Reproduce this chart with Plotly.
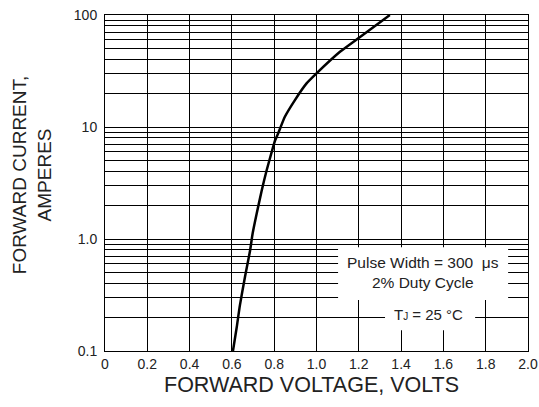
import plotly.graph_objects as go

# Forward characteristic
voltage = [0.605, 0.623, 0.638, 0.662, 0.686, 0.698, 0.717, 0.741, 0.764, 0.788,
           0.804, 0.819, 0.851, 0.898, 0.953, 1.0, 1.111, 1.206, 1.347]
current = [0.1, 0.164, 0.257, 0.46, 0.79, 1.12, 1.68, 2.71, 4.09, 5.96,
           7.57, 8.8, 12.4, 17.4, 24.5, 30.1, 46.9, 63.7, 100]

x_tickvals = [0, 0.2, 0.4, 0.6, 0.8, 1.0, 1.2, 1.4, 1.6, 1.8, 2.0]
x_ticktext = ["0", "0.2", "0.4", "0.6", "0.8", "1.0", "1.2", "1.4", "1.6", "1.8", "2.0"]

decades = [0.1, 1.0, 10, 100]
decade_labels = ["0.1", "1.0", "10", "100"]

y_tickvals = []
y_ticktext = []
for d, lab in zip(decades, decade_labels):
    y_tickvals.append(d)
    y_ticktext.append(lab)
    if d < 100:
        for m in range(2, 10):
            y_tickvals.append(d * m)
            y_ticktext.append("")

FONT = "Liberation Sans, Arial, sans-serif"

fig = go.Figure()
fig.add_trace(go.Scatter(
    x=voltage, y=current, mode="lines",
    line=dict(color="black", width=2.5, shape="spline", smoothing=0.6),
    showlegend=False, hoverinfo="skip",
))

fig.update_layout(
    width=539, height=407,
    margin=dict(l=105, r=11, t=15, b=56, autoexpand=False),
    paper_bgcolor="white", plot_bgcolor="white",
    font=dict(family=FONT, color="black", size=14),
    xaxis=dict(
        range=[0, 2], tickvals=x_tickvals, ticktext=x_ticktext,
        showgrid=True, gridcolor="black", gridwidth=1,
        showline=True, linecolor="black", linewidth=1, mirror=True,
        zeroline=False, ticks="", tickfont=dict(size=14, color="#222"),
    ),
    yaxis=dict(
        type="log", range=[-1, 2], tickvals=y_tickvals, ticktext=y_ticktext,
        showgrid=True, gridcolor="black", gridwidth=1,
        showline=True, linecolor="black", linewidth=1, mirror=True,
        zeroline=False, ticks="", ticklabelstandoff=4,
        tickfont=dict(size=14, color="#222"),
    ),
    shapes=[
        dict(type="rect", xref="paper", yref="paper",
             x0=0.551, x1=0.953, y0=0.152, y1=0.309,
             fillcolor="white", line=dict(width=0), layer="above"),
        dict(type="rect", xref="paper", yref="paper",
             x0=0.662, x1=0.875, y0=0.062, y1=0.153,
             fillcolor="white", line=dict(width=0), layer="above"),
    ],
    annotations=[
        dict(text="Pulse Width = 300  μs<br>2% Duty Cycle",
             xref="paper", yref="paper", x=(423 - 105) / 423, y=(351 - 272.5) / 336.3,
             xanchor="center", yanchor="middle", showarrow=False,
             font=dict(size=15.5, family=FONT, color="#222")),
        dict(text="T<span style='font-size:10px'>J</span> = 25 °C",
             xref="paper", yref="paper", x=(428.5 - 105) / 423, y=(351 - 314) / 336.3,
             xanchor="center", yanchor="middle", showarrow=False,
             font=dict(size=15, family=FONT, color="#222")),
        dict(text="FORWARD CURRENT,<br>AMPERES", textangle=-90,
             xref="paper", yref="paper", x=(32 - 105) / 423, y=(351 - 175) / 336.3,
             xanchor="center", yanchor="middle", showarrow=False,
             font=dict(size=19, family=FONT, color="#222")),
        dict(text="FORWARD VOLTAGE, VOLTS",
             xref="paper", yref="paper", x=(311.5 - 105) / 423, y=(351 - 385) / 336.3,
             xanchor="center", yanchor="middle", showarrow=False,
             font=dict(size=21.5, family=FONT, color="#222")),
    ],
)

fig.write_html("out.html", config={"displayModeBar": False},
               post_script="document.body.style.margin='0';")
